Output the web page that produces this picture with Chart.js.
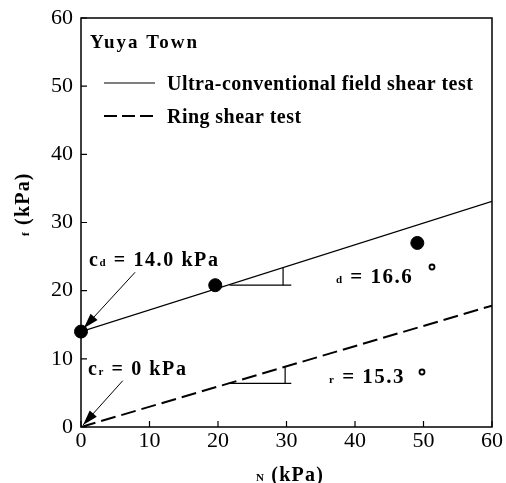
<!DOCTYPE html>
<html lang="en">
<head>
<meta charset="UTF-8">
<title>Yuya Town shear strength</title>
<script src="https://cdn.jsdelivr.net/npm/chart.js"></script>
<style>
  html, body { margin: 0; padding: 0; background: #fff; }
  #wrap { width: 506px; height: 483px; }
</style>
</head>
<body>
<div id="wrap"><canvas id="shear-chart" width="506" height="483"></canvas></div>
<script>
// data
const axisTicks = [0, 10, 20, 30, 40, 50, 60];
const normalStress = [0, 19.6, 49.1];      // sigma_N (kPa)
const shearStress = [14.0, 20.8, 27.0];    // tau_f (kPa)
const fieldLineX = [0, 60];
const fieldLineY = [14.0, 33.1];
const ringLineX = [0, 60];
const ringLineY = [0, 17.8];
const seriesNames = ['Ultra-conventional field shear test', 'Ring shear test'];
const siteName = 'Yuya Town';

// slope triangles (data coords)
const fieldTriX = [21.7, 30.7, 29.5, 29.5];
const fieldTriY = [20.8, 20.8, 20.8, 23.4];
const ringTriX = [21.5, 30.7, 29.8, 29.8];
const ringTriY = [6.4, 6.4, 6.4, 8.8];

const toPts = (xs, ys) => xs.map((x, i) => ({ x: x, y: ys[i] }));

const serif = '"Liberation Serif", "Times New Roman", serif';
const ctx = document.getElementById('shear-chart').getContext('2d');

// draw text pieces one after another: [text, size, dy]
function drawPieces(c, x, y, pieces, spacing) {
  let cx = x;
  pieces.forEach(p => {
    c.font = 'bold ' + p[1] + 'px ' + serif;
    c.letterSpacing = (spacing || 0) + 'px';
    c.fillText(p[0], cx, y + (p[2] || 0));
    cx += c.measureText(p[0]).width;
  });
  c.letterSpacing = '0px';
  return cx;
}

function arrow(c, x1, y1, x2, y2) {
  c.beginPath();
  c.moveTo(x1, y1);
  c.lineTo(x2, y2);
  c.lineWidth = 1;
  c.stroke();
  const a = Math.atan2(y2 - y1, x2 - x1);
  const len = 16, w = 0.3;
  c.beginPath();
  c.moveTo(x2, y2);
  c.lineTo(x2 - len * Math.cos(a - w), y2 - len * Math.sin(a - w));
  c.lineTo(x2 - len * Math.cos(a + w), y2 - len * Math.sin(a + w));
  c.closePath();
  c.fill();
}

const decorations = {
  id: 'decorations',
  afterDraw(chart) {
    const c = chart.ctx;
    const xs = chart.scales.x, ys = chart.scales.y;
    const area = chart.chartArea;
    const px = v => xs.getPixelForValue(v);
    const py = v => ys.getPixelForValue(v);
    c.save();
    c.strokeStyle = '#000';
    c.fillStyle = '#000';

    // frame
    c.lineWidth = 1.5;
    c.strokeRect(area.left, area.top, area.right - area.left, area.bottom - area.top);

    // inward ticks
    c.lineWidth = 1.2;
    axisTicks.forEach(t => {
      c.beginPath();
      c.moveTo(px(t), area.bottom);
      c.lineTo(px(t), area.bottom - 6);
      c.moveTo(area.left, py(t));
      c.lineTo(area.left + 6, py(t));
      c.stroke();
    });

    c.textBaseline = 'alphabetic';
    c.textAlign = 'left';

    // title + legend
    drawPieces(c, 90, 48, [[siteName, 19]], 2);
    c.lineWidth = 1.2;
    c.setLineDash([]);
    c.beginPath(); c.moveTo(104, 83); c.lineTo(155, 83); c.stroke();
    drawPieces(c, 167, 90, [[seriesNames[0], 20]], 0.45);
    c.lineWidth = 2;
    c.setLineDash([13, 5]);
    c.beginPath(); c.moveTo(104, 116); c.lineTo(155, 116); c.stroke();
    c.setLineDash([]);
    drawPieces(c, 167, 123, [[seriesNames[1], 20]], 0.45);

    // intercept labels and arrows
    drawPieces(c, 89, 266, [['c', 20], ['d', 11], [' = 14.0 kPa', 20]], 1.6);
    arrow(c, px(7.9), py(22.7), px(0.4), py(14.5));
    drawPieces(c, 88, 375, [['c', 20], ['r', 11], [' = 0 kPa', 20]], 1.6);
    arrow(c, px(6.1), py(6.8), px(0.3), py(0.3));

    // friction angle labels
    drawPieces(c, 336, 283, [['d', 11], [' = 16.6', 21]], 1.5);
    c.lineWidth = 1.8;
    c.beginPath(); c.arc(432, 267, 2.5, 0, Math.PI * 2); c.stroke();
    drawPieces(c, 329, 383, [['r', 11], [' = 15.3', 21]], 1.5);
    c.beginPath(); c.arc(422, 372, 2.5, 0, Math.PI * 2); c.stroke();

    // axis titles
    drawPieces(c, 256, 481, [['N', 11], [' (kPa)', 20]], 1.2);
    c.translate(29, 236);
    c.rotate(-Math.PI / 2);
    drawPieces(c, 0, 0, [['f', 11], [' (kPa)', 20]], 1.2);
    c.restore();
  }
};

const lineDefaults = { showLine: true, pointRadius: 0, borderColor: '#000', fill: false, tension: 0 };

new Chart(ctx, {
  type: 'scatter',
  data: {
    datasets: [
      Object.assign({ label: seriesNames[0], data: toPts(fieldLineX, fieldLineY), borderWidth: 1.3 }, lineDefaults),
      Object.assign({ label: seriesNames[1], data: toPts(ringLineX, ringLineY), borderWidth: 2, borderDash: [15, 6] }, lineDefaults),
      Object.assign({ label: 'tri1a', data: toPts(fieldTriX.slice(0, 2), fieldTriY.slice(0, 2)), borderWidth: 1.2 }, lineDefaults),
      Object.assign({ label: 'tri1b', data: toPts(fieldTriX.slice(2), fieldTriY.slice(2)), borderWidth: 1.2 }, lineDefaults),
      Object.assign({ label: 'tri2a', data: toPts(ringTriX.slice(0, 2), ringTriY.slice(0, 2)), borderWidth: 1.2 }, lineDefaults),
      Object.assign({ label: 'tri2b', data: toPts(ringTriX.slice(2), ringTriY.slice(2)), borderWidth: 1.2 }, lineDefaults),
      {
        label: 'Tests',
        data: toPts(normalStress, shearStress),
        pointRadius: 6.5,
        pointBackgroundColor: '#000',
        pointBorderColor: '#000',
        showLine: false,
        clip: false
      }
    ]
  },
  options: {
    responsive: false,
    animation: false,
    layout: { padding: { top: 18, right: 14, left: 0, bottom: 0 } },
    plugins: { legend: { display: false }, tooltip: { enabled: false } },
    scales: {
      x: {
        type: 'linear', min: 0, max: 60,
        grid: { display: false, drawTicks: false }, border: { display: false },
        afterFit: s => { s.height = 56; s.paddingLeft = 0; s.paddingRight = 0; },
        ticks: { stepSize: 10, color: '#000', padding: 1, font: { family: serif, size: 22 } }
      },
      y: {
        type: 'linear', min: 0, max: 60,
        grid: { display: false, drawTicks: false }, border: { display: false },
        afterFit: s => { s.width = 81; s.paddingTop = 0; s.paddingBottom = 0; },
        ticks: { stepSize: 10, color: '#000', padding: 8, font: { family: serif, size: 22 } }
      }
    }
  },
  plugins: [decorations]
});
</script>
</body>
</html>
